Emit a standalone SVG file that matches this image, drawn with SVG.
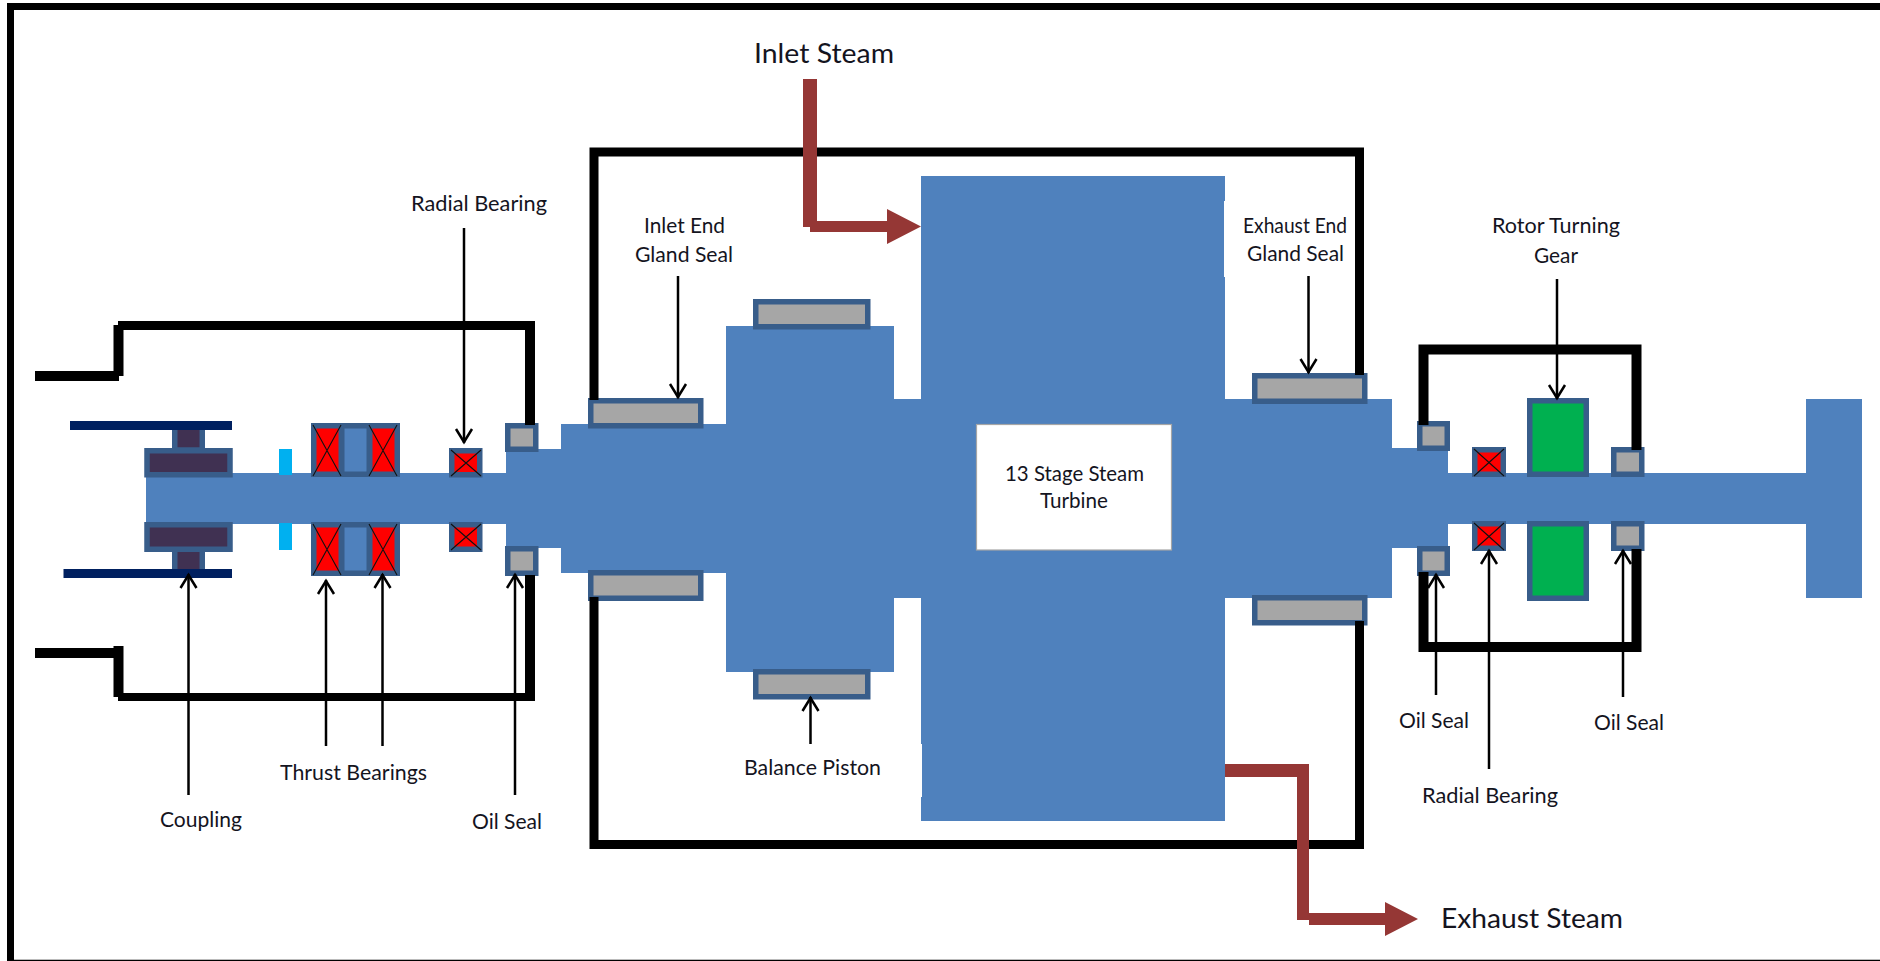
<svg xmlns="http://www.w3.org/2000/svg" width="1880" height="961" viewBox="0 0 1880 961">
<style>
.rotor{fill:#4F81BD}
.b{stroke:#385D8A;stroke-width:5.5}
.seal{fill:#A6A6A6}
.brg{fill:#FF0000}
.cpl{fill:#403152}
.gear{fill:#00B050}
.mid{fill:#4F81BD}
.navy{fill:#002060}
.cyan{fill:#00B0F0}
.x{stroke:#111;stroke-width:1.1;fill:none}
.case{fill:none;stroke:#000;stroke-linejoin:miter}
.steam{fill:#953735}
.lead{stroke:#000;stroke-width:2.5;fill:none;marker-end:url(#head)}
text{font-family:Lato,"Liberation Sans",sans-serif;fill:#14141e;font-size:21.5px}
.big{font-size:27px}
</style>
<defs>
<marker id="head" markerUnits="userSpaceOnUse" markerWidth="22" markerHeight="22" refX="18" refY="11" orient="auto">
<path d="M4,3 L17,11 L4,19" fill="none" stroke="#000" stroke-width="2.5"/>
</marker>
</defs>
<rect width="1880" height="961" fill="#fff"/>
<g id="frame" fill="#000">
<rect x="7" y="3" width="1873" height="7"/>
<rect x="7" y="3" width="7" height="958"/>
<rect x="7" y="960" width="1873" height="1"/>
<rect x="14" y="959" width="1866" height="1" fill="#bbb"/>
</g>
<path id="rotor" class="rotor" d="M146,473H506V449H561V424H726V326H894V399H921V176H1225V201H1224V277H1225V399H1392V448H1448V473H1806V399H1862V598H1806V524H1448V548H1392V598H1225V821H921V797H922V744H921V598H894V672H726V573H561V548H506V524H146Z"/>
<g id="turbine-label">
<rect x="976.5" y="424.5" width="195" height="125.5" fill="#fff" stroke="#A6A6A6" stroke-width="1.2"/>
<text x="1005" y="481" textLength="139" lengthAdjust="spacingAndGlyphs">13 Stage Steam</text>
<text x="1040" y="508" textLength="68" lengthAdjust="spacingAndGlyphs">Turbine</text>
</g>
<g id="coupling">
<rect class="cpl b" x="174.75" y="427" width="27.5" height="23"/>
<rect class="cpl b" x="174.75" y="549" width="27.5" height="23"/>
<rect class="navy" x="70" y="421" width="162" height="9"/>
<rect class="navy" x="63.5" y="569" width="168.5" height="9"/>
<rect class="cpl b" x="147" y="450.75" width="83" height="24"/>
<rect class="cpl b" x="147" y="524.75" width="83" height="24.5"/>
</g>
<g id="collar" class="cyan">
<rect x="279" y="449" width="13" height="26"/>
<rect x="279" y="523" width="13" height="27"/>
</g>
<g id="thrust-bearings">
<rect class="mid b" x="341.75" y="425.75" width="27.5" height="48.5"/>
<rect class="mid b" x="341.75" y="524.75" width="27.5" height="48.5"/>
<rect class="brg b" x="313.75" y="425.75" width="27.5" height="48.5"/>
<rect class="brg b" x="369.75" y="425.75" width="27.5" height="48.5"/>
<rect class="brg b" x="313.75" y="524.75" width="27.5" height="48.5"/>
<rect class="brg b" x="369.75" y="524.75" width="27.5" height="48.5"/>
<path class="x" d="M313,476L341,425M313,425L341,476M369,476L397,425M369,425L397,476M313,575L341,524M313,524L341,575M369,575L397,524M369,524L397,575"/>
</g>
<g id="radial-bearing-left">
<rect class="brg b" x="451.75" y="450.75" width="28" height="24"/>
<rect class="brg b" x="451.75" y="524.75" width="28" height="24.5"/>
<path class="x" d="M451,476L481,450M451,450L481,476M451,550L481,524M451,524L481,550"/>
</g>
<g id="oil-seal-left">
<rect class="seal b" x="507.75" y="425.75" width="28" height="23.5"/>
<rect class="seal b" x="507.75" y="548.75" width="28" height="24.5"/>
</g>
<g id="inlet-gland-seal">
<rect class="seal b" x="590.75" y="400.75" width="110" height="25"/>
<rect class="seal b" x="590.75" y="572.75" width="110" height="25.5"/>
</g>
<g id="balance-piston">
<rect class="seal b" x="755.75" y="301.75" width="112" height="25"/>
<rect class="seal b" x="755.75" y="671.75" width="112" height="25"/>
</g>
<g id="exhaust-gland-seal">
<rect class="seal b" x="1254.75" y="375.75" width="110" height="25.5"/>
<rect class="seal b" x="1254.75" y="597.75" width="110" height="25"/>
</g>
<g id="oil-seal-mid">
<rect class="seal b" x="1419.75" y="423.75" width="27.5" height="24.5"/>
<rect class="seal b" x="1419.75" y="548.75" width="27.5" height="24.5"/>
</g>
<g id="radial-bearing-right">
<rect class="brg b" x="1474.75" y="449.75" width="28.5" height="24.5"/>
<rect class="brg b" x="1474.75" y="523.75" width="28.5" height="24.5"/>
<path class="x" d="M1474,476L1504,449M1474,449L1504,476M1474,550L1504,523M1474,523L1504,550"/>
</g>
<g id="turning-gear">
<rect class="gear b" x="1529.75" y="400.75" width="56.5" height="73.5"/>
<rect class="gear b" x="1529.75" y="523.75" width="56.5" height="74.5"/>
</g>
<g id="oil-seal-right">
<rect class="seal b" x="1613.75" y="449.75" width="28" height="24.5"/>
<rect class="seal b" x="1613.75" y="523.75" width="28" height="24.5"/>
</g>
<g id="casings" fill="#000">
<rect x="35" y="371" width="84" height="10"/>
<rect x="113.5" y="325" width="10" height="51"/>
<rect x="118" y="321" width="417" height="9"/>
<rect x="525" y="325" width="10" height="100"/>
<rect x="35" y="648" width="84" height="10"/>
<rect x="113.5" y="646" width="10" height="51"/>
<rect x="118" y="693" width="417" height="8"/>
<rect x="525" y="575" width="10" height="126"/>
<path class="case" stroke-width="9" d="M594,400V152H1359.5V375"/>
<path class="case" stroke-width="9" d="M594,597V844.5H1359.5V621"/>
<path class="case" stroke-width="10" d="M1423.5,425V349.5H1636.5V450"/>
<path class="case" stroke-width="10" d="M1423.5,572V647H1636.5V549"/>
</g>
<g id="connectors">
<path class="steam" d="M803,79H817V221H887V209L921,226.5L887,244V232H810V227H803Z"/>
<path class="steam" d="M1225,764H1309V913H1385V902L1418,919L1385,936V925H1309V920H1297V777H1225Z"/>
<line class="lead" x1="464" y1="228" x2="464" y2="443"/>
<line class="lead" x1="678" y1="276" x2="678" y2="398"/>
<line class="lead" x1="1308.5" y1="276" x2="1308.5" y2="373"/>
<line class="lead" x1="1557" y1="279" x2="1557" y2="399"/>
<line class="lead" x1="188.5" y1="795" x2="188.5" y2="574"/>
<line class="lead" x1="326" y1="746" x2="326" y2="580"/>
<line class="lead" x1="382.5" y1="746" x2="382.5" y2="574"/>
<line class="lead" x1="515" y1="795" x2="515" y2="574"/>
<line class="lead" x1="810.5" y1="744" x2="810.5" y2="697"/>
<line class="lead" x1="1436" y1="695" x2="1436" y2="574"/>
<line class="lead" x1="1489" y1="769" x2="1489" y2="550"/>
<line class="lead" x1="1623" y1="697" x2="1623" y2="550"/>
</g>
<g id="labels">
<text class="big" x="754" y="63" textLength="140" lengthAdjust="spacingAndGlyphs">Inlet Steam</text>
<text class="big" x="1441" y="928" textLength="182" lengthAdjust="spacingAndGlyphs">Exhaust Steam</text>
<text x="411" y="211" textLength="136" lengthAdjust="spacingAndGlyphs">Radial Bearing</text>
<text x="644" y="233" textLength="81" lengthAdjust="spacingAndGlyphs">Inlet End</text>
<text x="635" y="262" textLength="98" lengthAdjust="spacingAndGlyphs">Gland Seal</text>
<text x="1243" y="233" textLength="104" lengthAdjust="spacingAndGlyphs">Exhaust End</text>
<text x="1247" y="261" textLength="97" lengthAdjust="spacingAndGlyphs">Gland Seal</text>
<text x="1492" y="233" textLength="128" lengthAdjust="spacingAndGlyphs">Rotor Turning</text>
<text x="1534" y="263" textLength="44" lengthAdjust="spacingAndGlyphs">Gear</text>
<text x="160" y="827" textLength="82" lengthAdjust="spacingAndGlyphs">Coupling</text>
<text x="280" y="780" textLength="147" lengthAdjust="spacingAndGlyphs">Thrust Bearings</text>
<text x="472" y="829" textLength="70" lengthAdjust="spacingAndGlyphs">Oil Seal</text>
<text x="744" y="775" textLength="137" lengthAdjust="spacingAndGlyphs">Balance Piston</text>
<text x="1399" y="728" textLength="70" lengthAdjust="spacingAndGlyphs">Oil Seal</text>
<text x="1594" y="730" textLength="70" lengthAdjust="spacingAndGlyphs">Oil Seal</text>
<text x="1422" y="803" textLength="136" lengthAdjust="spacingAndGlyphs">Radial Bearing</text>
</g>
</svg>
